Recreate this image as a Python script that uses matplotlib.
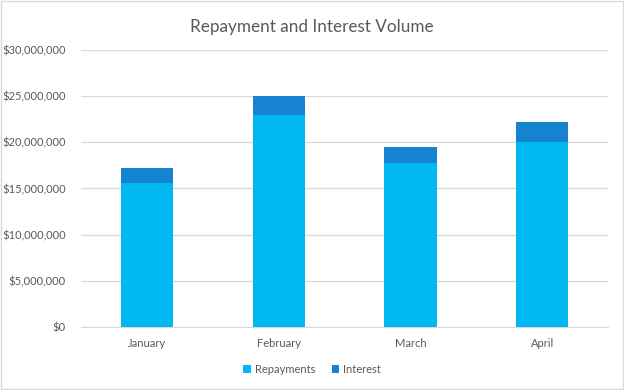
import matplotlib
matplotlib.use('Agg')
import matplotlib.pyplot as plt
from matplotlib.ticker import FuncFormatter, MultipleLocator
from matplotlib.patches import Rectangle

months = ['January', 'February', 'March', 'April']
repayments = [15600000, 23000000, 17750000, 20000000]
interest = [1650000, 2000000, 1700000, 2200000]

plt.rcParams['font.family'] = ['Lato', 'DejaVu Sans']
txt = '#595959'

fig = plt.figure(figsize=(6.24, 3.9), dpi=100)
ax = fig.add_axes([0.130, 0.1615, 0.8446, 0.7105])

x = range(len(months))
ax.bar(x, repayments, width=0.395, color='#00B8F2', label='Repayments', zorder=3)
ax.bar(x, interest, width=0.395, bottom=repayments, color='#1583CF', label='Interest', zorder=3)

ax.set_xlim(-0.5, 3.5)
ax.set_ylim(0, 30000000)
ax.yaxis.set_major_locator(MultipleLocator(5000000))
ax.yaxis.set_major_formatter(FuncFormatter(lambda v, p: '${:,.0f}'.format(v)))
ax.set_xticks(list(x))
ax.set_xticklabels(months)
ax.tick_params(axis='y', length=0, labelsize=8, colors=txt, pad=11)
ax.tick_params(axis='x', length=0, labelsize=8, colors=txt, pad=8)
ax.grid(axis='y', color='#D9D9D9', linewidth=0.9, zorder=0)
for s in ['top', 'right', 'left']:
    ax.spines[s].set_visible(False)
ax.spines['bottom'].set_color('#D9D9D9')

fig.text(0.5, 0.93, 'Repayment and Interest Volume', ha='center', va='center',
         fontsize=12.3, color=txt)
fig.legend(loc='center', bbox_to_anchor=(0.5, 0.052), ncol=2, frameon=False,
           fontsize=8, handlelength=0.7, handleheight=0.7, handletextpad=0.3,
           columnspacing=1.5, labelcolor=txt)

fig.patches.append(Rectangle((0.002, 0.003), 0.996, 0.994, transform=fig.transFigure,
                             fill=False, edgecolor='#D9D9D9', linewidth=1))

fig.savefig('out.png', dpi=100)
